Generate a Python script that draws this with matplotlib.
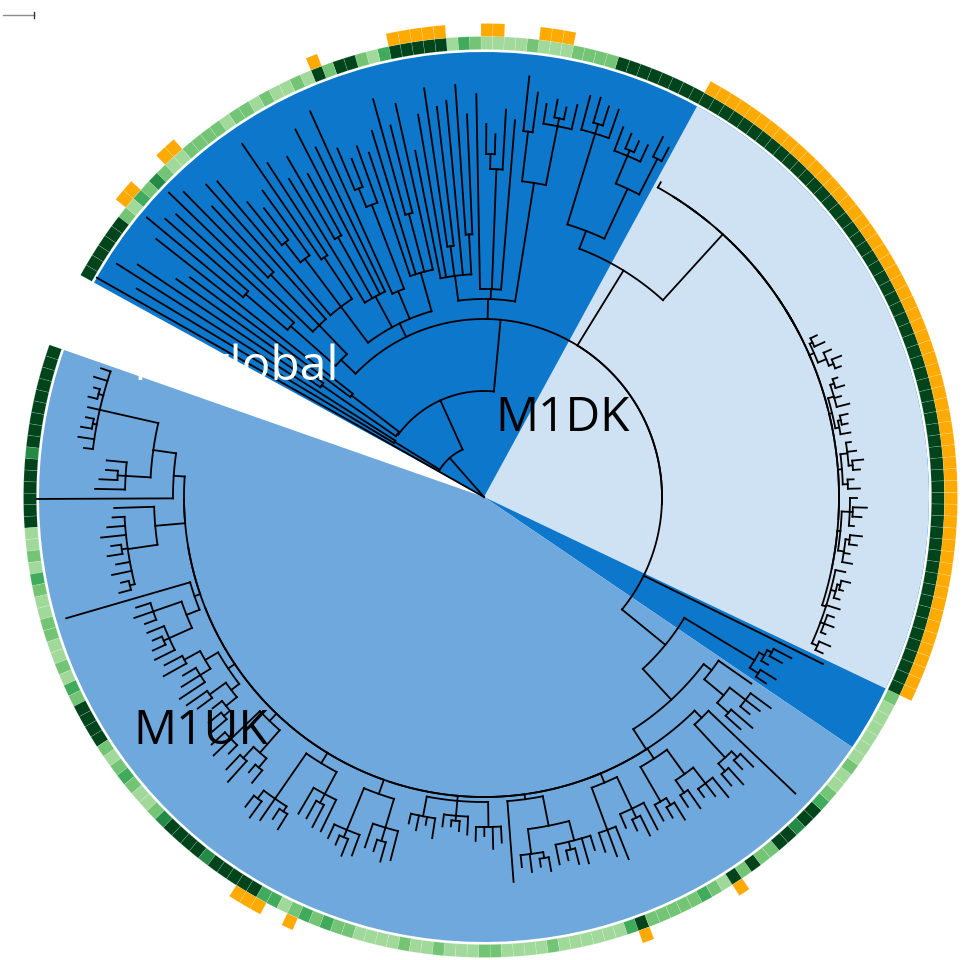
import numpy as np
import matplotlib
matplotlib.use("Agg")
import matplotlib.pyplot as plt
from matplotlib.collections import LineCollection

plt.rcParams['font.family'] = ['Open Sans', 'DejaVu Sans']

# ---------------- tree pieces (Newick, branch lengths in tree units) ----------------
# M1UK: side clades hanging off a zero-length backbone, ordered by position
UK_S11 = "(((:10,:14,(:6,:9):5,:12,(:8,:11):4,:16,:9):60,(:20,(:12,:18):8,:30):25):23,:136):11"
UK_S10 = "(:40,(:12,:18,:25,(:10,:15):6,:14,:20,(:8,:12):5):30):30"
UK_S9 = "(:129,((:15,:20,:12):30,(:18,(:10,:14):6,:22):25):14):6"
UK_S8 = "(((:20,:26):18,(:15,:22,:30):12):15,((:25,:18):20,(:12,(:16,:22):8):14):10):8"
UK_S7 = "((:18,:24,:12):40,((:20,:28):15,(:10,:16):12):30):10"
UK_S6 = "(((:14,:20):10,:26,(:12,:18):6):55,(:30,(:20,:25):10,:35):25):12"
UK_S5 = "((:15,(:10,:18):8,:22):45,(:25,(:12,:20):14,:30):30):15"
UK_S4 = "((:10,:15,:8,:20):20,(:12,(:6,:10):5,:18):15,(:14,:9,:22,:16):25):5"
UK_S3 = "(:81,((:12,:18,(:8,:14):6):25,(:20,(:10,:16):8,:26,:15):20):30):5"
UK_S2 = "((:20,:28,:35):45,(:15,(:12,:22):10,:30):35):10"
UK_S1 = "((:18,(:12,:20):8):40,((:14,:22):15,(:10,:16,:25):20):30):12"
UK_S0 = "(((:15,:22):10,(:12,:18):8):45,:120):10"
UK_RIGHT = "(((:20,:28):15,(:12,:18,:25):20):25,:40):10"

# small M1global clades
GBAND = "((:12,:18):10,(:8,(:14,:20):5):6):82"
TIP_LONG = ":200"

# M1DK: groups along a zero-length comb
DK_GROUPS = [
    "((:8,:12):6,(:5,:10,:7):4,:14,(:6,(:4,:9):3):5,:10):4",
    "((:10,:6,(:8,:12):4):6,(:5,(:9,:14):3,:7):8):3",
    "((:12,:6):5,((:7,:11):4,:9,:5):7):4",
    "((:10,(:6,:8):3):4,(:13,:7,(:9,:5):4):6):3",
    "(((:6,:10):5,:8):9,(:11,:7):3):5",
    "((:0,(:0,:0):0,:0):0,(:0,:0):0):0",
    "(:0,:0,(:0,:0):0):0",
    "(:0,:0,(:0,:0):0,:0,:0):0",
]
DK_TOP = ["((:0,:0):0,:0,:0):0", "(:0,:0):0", ":0", ":6"]

G1 = "(((:15,:22):40,(:18,(:12,:16):6,:25):30):55,(:30,(:20,:26):10,:35):95):19"
EU1 = ("(((:25,(:12,:18):8,:20):60,(:40,:55):50):120,(:170,(:60,(:20,:30):15):120,:195):10,"
       "((:120,:150):40,:175,(:140,:160):30,:165,:130):25):20")
EU2 = ("((:170,(:90,:120):60,:150,:130):40,((:60,(:30,:45):20):90,:200):30,"
       "(:160,:185,(:70,:95):70,:145):35,((:110,:140):50,(:80,(:40,:55):25):60,:175):45):15")
EU3 = "((:180,(:90,:120):70,:200):40,(:160,(:110,:125):55):60):20"
F_CLADE = "((:250,:200):60,(:180,:220):90):1"
D_CLADE = "(:330,:300):53"
B_TIP = ":445"

# ---------------- tip annotations (in tip order) ----------------
# ring category: 0 lightest ... 4 darkest
ring_uk = [4, 4, 4, 4, 4, 4, 4, 4, 4, 3, 4, 4, 4, 4, 4, 4,
           0, 0, 1, 0, 2, 1, 0, 0, 1,
           1, 0, 0, 1, 0, 2, 1,
           4, 4, 4, 4,
           1, 0, 1, 2, 1, 0, 0, 1, 3,
           4, 4, 4, 4, 3, 4, 4, 4, 4, 4,
           2, 2, 0, 1, 2, 1, 2, 1, 1, 0, 0, 0, 0, 1,
           0, 0, 1, 0, 0, 0, 1, 1, 0, 0, 0, 0, 1, 0, 0,
           0, 0, 0, 0, 2, 4, 1, 1, 1, 1, 1, 2, 1, 0, 4, 1, 4, 1,
           1, 4, 4, 3, 4, 4, 2, 1, 0, 0, 1, 0]
ring_band = [0, 0, 0, 0, 0, 1]
ring_dk = [4, 4, 4, 4, 4, 4, 4, 4, 4, 4, 4, 4, 4, 4, 4, 4, 4, 4, 4, 4,
           4, 4, 4, 4, 4, 4, 4, 4, 4, 4, 4, 4, 4, 4, 4, 4, 4, 4, 4, 4,
           4, 4, 4, 4, 4, 4, 4, 4, 4, 4, 4, 4, 4, 4, 4, 4, 4, 4, 4, 4]
ring_top = [4, 4, 4, 4, 4, 4, 4, 4,
            1, 1,
            1, 1, 0, 0, 0, 1, 0, 0, 0, 0, 1, 2, 0,
            4, 4, 4, 4, 4,
            2, 0, 1, 4, 4, 1, 4,
            0, 1, 0, 0, 1, 0, 1, 1, 0, 1, 1, 1, 1,
            0, 0, 1, 3, 1, 2, 0, 1,
            4, 4, 4, 4, 4, 4]

# second ring: 1 = flagged
flag_uk = [0] * 53 + [1, 1, 1, 0, 0, 1] + [0] * 30 + [1] + [0] * 8 + [1] + [0] * 15
flag_band = [0, 0, 0, 0, 0, 0]
flag_dk = [1] * 60
flag_top = ([0] * 12 + [1, 1, 1, 0, 0, 0, 1, 1, 0, 0, 0, 1, 1, 1, 1, 1,
            0, 0, 0, 0, 0, 0, 1] + [0] * 13 + [1, 1, 0, 0, 0, 1, 1] + [0] * 7)

RING_COLORS = ['#A1D99B', '#74C476', '#41AB5D', '#238B45', '#00441B']
FLAG_COLOR = '#FFAA00'
HL_COLORS = {'M1global': '#0D77CC', 'M1UK': '#6FA8DC', 'M1DK': '#CFE2F3'}

# label anchors (angle in degrees, radius in tree units)
labels = [('M1global', 161.6, 370, 'white'),
          ('M1DK', 80.5, 67, 'black'),
          ('M1UK', 215.1, 429, 'black')]

OPEN_ANGLE = 9.5       # gap left open in the circle (degrees)
START_ANGLE = 160.7    # where the first tip sits
SCALE_LEN = 31         # tree-scale bar length, tree units


# ---------------- Newick parsing ----------------
def parse(s):
    pos = 0

    def node():
        nonlocal pos
        kids = []
        if s[pos] == '(':
            pos += 1
            while True:
                kids.append(node())
                if s[pos] == ',':
                    pos += 1
                    continue
                pos += 1  # ')'
                break
        while pos < len(s) and s[pos] not in ':,();':
            pos += 1
        length = 0.0
        if pos < len(s) and s[pos] == ':':
            pos += 1
            st = pos
            while pos < len(s) and s[pos] not in ',();':
                pos += 1
            length = float(s[st:pos])
        return {'children': kids, 'length': length}

    return node()


def join(children, length):
    return {'children': children, 'length': float(length)}


# ---------------- assemble the tree ----------------
side = [parse(x) for x in [UK_S11, UK_S10, UK_S9, UK_S8, UK_S7, UK_S6,
                           UK_S5, UK_S4, UK_S3, UK_S2, UK_S1]]
lad = side[0]
for sc in side[1:]:
    lad = join([lad, sc], 0)
uk_main = join([lad, parse(UK_S0)], 24)
m1uk = join([uk_main, parse(UK_RIGHT)], 42)
p234 = join([m1uk, parse(GBAND)], 56)

grp = [parse(x) for x in DK_GROUPS]
lad = grp[0]
for g in grp[1:]:
    lad = join([lad, g], 0)
m1dk = join([lad, join([parse(x) for x in DK_TOP], 0)], 89)
n266 = join([m1dk, parse(G1)], 88)
e_r = join([p234, parse(TIP_LONG), n266], 0)
e_node = join([e_r, parse(EU1), parse(EU2), parse(EU3)], 72)
c_node = join([e_node, parse(F_CLADE)], 54)
a_node = join([c_node, parse(D_CLADE)], 52)
root = join([a_node, parse(B_TIP)], 0)

ring = ring_uk + ring_band + ring_dk + ring_top
flags = flag_uk + flag_band + flag_dk + flag_top


def tips_of(n):
    if not n['children']:
        return [n]
    out = []
    for ch in n['children']:
        out += tips_of(ch)
    return out


all_tips = tips_of(root)
N = len(all_tips)
STEP = (360.0 - OPEN_ANGLE) / N


def layout(n, r0, counter):
    n['r'] = r0 + n['length']
    if not n['children']:
        i = counter[0]
        counter[0] += 1
        n['idx'] = i
        n['theta'] = START_ANGLE + (i + 0.5) * STEP
    else:
        for ch in n['children']:
            layout(ch, n['r'], counter)
        n['theta'] = float(np.mean([ch['theta'] for ch in n['children']]))


root['length'] = 0.0
layout(root, 0.0, [0])

segs = []


def collect(n):
    for ch in n['children']:
        if ch['r'] > n['r']:
            t = np.deg2rad(ch['theta'])
            segs.append([(t, n['r']), (t, ch['r'])])
        collect(ch)
    if n['children'] and n['r'] > 0:
        t0 = min(ch['theta'] for ch in n['children'])
        t1 = max(ch['theta'] for ch in n['children'])
        if t1 > t0:
            k = max(2, int((t1 - t0) / 0.4) + 2)
            th = np.deg2rad(np.linspace(t0, t1, k))
            segs.append(list(zip(th, np.full(k, n['r']))))


collect(root)

# ---------------- figure ----------------
W, H = 966, 960
CX, CY = 484, 463  # centre in pixels (from bottom)
R_AX = 490
fig = plt.figure(figsize=(W / 100, H / 100), dpi=100)
ax = fig.add_axes([(CX - R_AX) / W, (CY - R_AX) / H, 2 * R_AX / W, 2 * R_AX / H],
                  projection='polar')
ax.set_ylim(0, R_AX)
ax.set_axis_off()

R_TREE = 445
RING_IN, RING_W = 447.5, 13
FLAG_IN, FLAG_W = 460.5, 13


def span(tip_list):
    idx = [t['idx'] for t in tip_list]
    return min(idx), max(idx)


uk_lo, uk_hi = span(tips_of(m1uk))
dk_lo, dk_hi = span(tips_of(m1dk))
hl = [('M1global', uk_hi + 1, N - 1), ('M1UK', uk_lo, uk_hi), ('M1DK', dk_lo, dk_hi)]
for name, lo, hi in hl:
    a0 = START_ANGLE + lo * STEP
    a1 = START_ANGLE + (hi + 1) * STEP
    ax.bar(np.deg2rad((a0 + a1) / 2), R_TREE, width=np.deg2rad(a1 - a0), bottom=0,
           color=HL_COLORS[name], linewidth=0, zorder=1)

ax.add_collection(LineCollection(segs, colors='black', linewidths=1.3,
                                 capstyle='projecting', zorder=3))

tip_theta = np.deg2rad([t['theta'] for t in all_tips])
ax.bar(tip_theta, RING_W, width=np.deg2rad(STEP), bottom=RING_IN,
       color=[RING_COLORS[v] for v in ring], edgecolor=(1, 1, 1, 0.25),
       linewidth=0.4, zorder=2)
fl = np.array(flags, dtype=bool)
ax.bar(tip_theta[fl], FLAG_W, width=np.deg2rad(STEP), bottom=FLAG_IN,
       color=FLAG_COLOR, edgecolor=(1, 1, 1, 0.25), linewidth=0.4, zorder=2)

for txt, ang, rr, col in labels:
    ax.text(np.deg2rad(ang), rr, txt, color=col, fontsize=34.5, ha='left',
            va='baseline', zorder=5)

# tree-scale bar in the top-left corner
sb = fig.add_axes([0, 0, 1, 1])
sb.set_xlim(0, W)
sb.set_ylim(H, 0)
sb.set_axis_off()
sb.plot([3, 3 + SCALE_LEN], [14.5, 14.5], color='#8C8C8C', lw=1.0)
sb.plot([3 + SCALE_LEN, 3 + SCALE_LEN], [12, 17.5], color='#333333', lw=1.0)

fig.savefig('out.png', dpi=100)
